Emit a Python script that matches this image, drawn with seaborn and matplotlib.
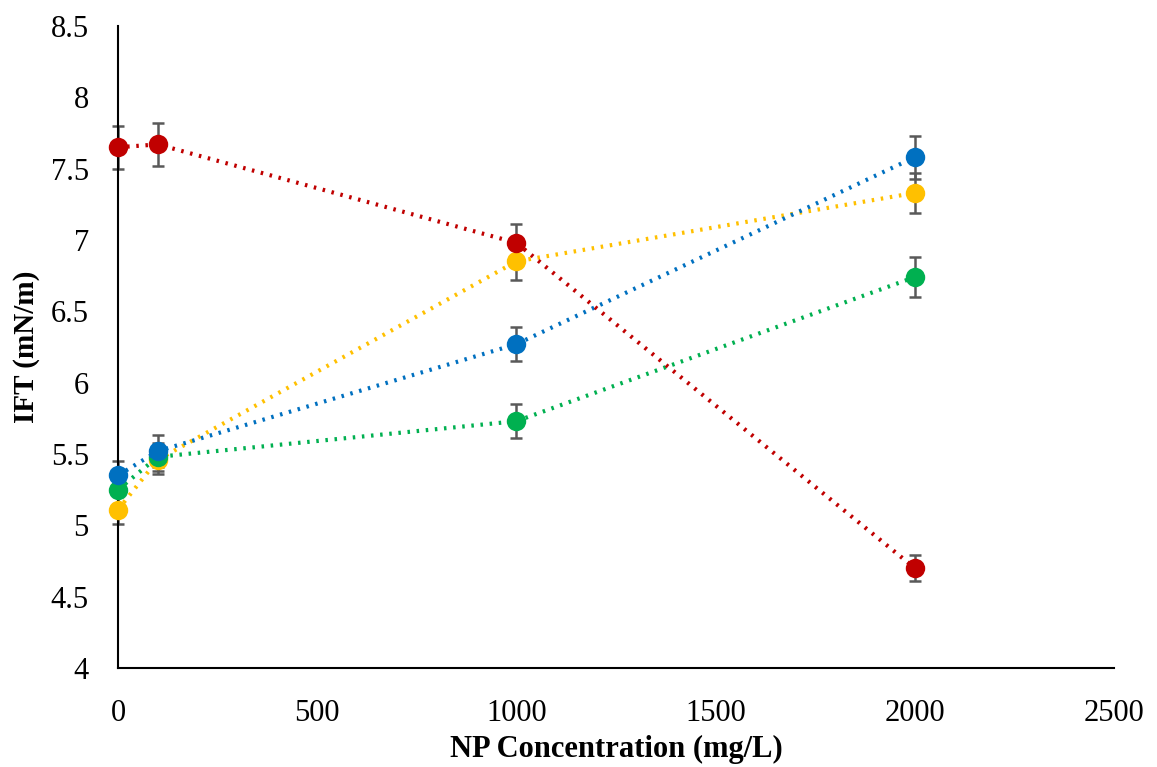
import numpy as np
import pandas as pd
import matplotlib
matplotlib.use("Agg")
import matplotlib.pyplot as plt
import seaborn as sns

conc = [0, 100, 1000, 2000]
series_names = ["Yellow", "Green", "Blue", "Red"]
yellow_vals = [5.11, 5.46, 6.85, 7.33]
green_vals = [5.25, 5.48, 5.73, 6.74]
blue_vals = [5.35, 5.52, 6.27, 7.58]
red_vals = [7.65, 7.67, 6.98, 4.70]
yellow_err = [0.10, 0.10, 0.13, 0.14]
green_err = [0.10, 0.10, 0.12, 0.14]
blue_err = [0.10, 0.11, 0.12, 0.15]
red_err = [0.15, 0.15, 0.13, 0.09]
colors = ["#FFC000", "#00B050", "#0070C0", "#C00000"]

x_ticks = [0, 500, 1000, 1500, 2000, 2500]
y_ticks = [4, 4.5, 5, 5.5, 6, 6.5, 7, 7.5, 8, 8.5]
y_tick_labels = ["4", "4.5", "5", "5.5", "6", "6.5", "7", "7.5", "8", "8.5"]

vals = [yellow_vals, green_vals, blue_vals, red_vals]
errs = [yellow_err, green_err, blue_err, red_err]

df = pd.DataFrame({
    "conc": conc * 4,
    "ift": sum(vals, []),
    "series": sum([[n] * len(conc) for n in series_names], []),
})

sns.set_style("white")
plt.rcParams["font.family"] = ["Liberation Serif", "DejaVu Serif"]
plt.rcParams["text.color"] = "black"
plt.rcParams["axes.labelcolor"] = "black"

fig = plt.figure(figsize=(11.57, 7.67), dpi=100)
ax = fig.add_axes([118 / 1157, 1 - 668 / 767, (1114 - 118) / 1157, (668 - 26) / 767])

for v, e in zip(vals, errs):
    ax.errorbar(conc, v, yerr=e, fmt="none", ecolor="#595959", elinewidth=1.8,
                capsize=4.5, capthick=1.8, zorder=1)

for i, (name, c) in enumerate(zip(series_names, colors)):
    sub = df[df["series"] == name]
    sns.lineplot(data=sub, x="conc", y="ift", ax=ax, color=c, linestyle=(0, (0.6, 1.6)),
                 linewidth=3, marker="o", markersize=14, markeredgewidth=0,
                 markeredgecolor=c, zorder=3 + i, legend=False)

ax.set_xlim(0, 2500)
ax.set_ylim(4, 8.5)
ax.set_xticks(x_ticks)
ax.set_xticklabels([str(t) for t in x_ticks])
ax.set_yticks(y_ticks)
ax.set_yticklabels(y_tick_labels)
ax.tick_params(axis="both", length=0, labelsize=22, colors="black")
ax.tick_params(axis="y", pad=21)
ax.tick_params(axis="x", pad=22)
ax.set_xlabel("NP Concentration (mg/L)", fontsize=22, fontweight="bold", labelpad=5, color="black")
ax.set_ylabel("IFT (mN/m)", fontsize=21, fontweight="bold", labelpad=8, color="black")
for s in ["top", "right"]:
    ax.spines[s].set_visible(False)
for s in ["left", "bottom"]:
    ax.spines[s].set_color("black")
    ax.spines[s].set_linewidth(1.5)
for line in ax.lines:
    line.set_clip_on(False)
for coll in ax.collections:
    coll.set_clip_on(False)

fig.savefig("out.png", dpi=100)
